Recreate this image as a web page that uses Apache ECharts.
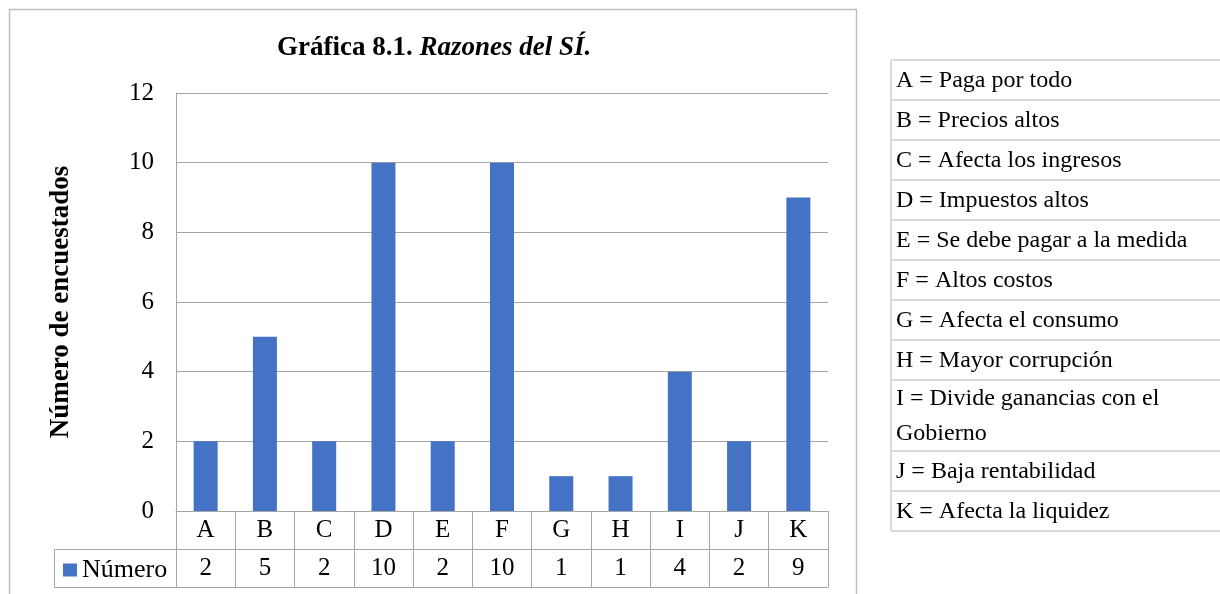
<!DOCTYPE html>
<html>
<head>
<meta charset="utf-8">
<script src="https://cdn.jsdelivr.net/npm/echarts@6/dist/echarts.min.js"></script>
<style>
  html, body { margin: 0; padding: 0; background: #ffffff; }
  #chart { width: 1220px; height: 594px; }
</style>
</head>
<body>
<div id="chart"></div>
<script>
// ---- data ----
const categories = ['A', 'B', 'C', 'D', 'E', 'F', 'G', 'H', 'I', 'J', 'K'];
const values = [2, 5, 2, 10, 2, 10, 1, 1, 4, 2, 9];
const seriesName = 'Número';
const yTicks = [0, 2, 4, 6, 8, 10, 12];
const titleMain = 'Gráfica 8.1. ';
const titleItalic = 'Razones del SÍ.';
const yAxisTitle = 'Número de encuestados';
const descriptions = [
  'A = Paga por todo',
  'B = Precios altos',
  'C = Afecta los ingresos',
  'D = Impuestos altos',
  'E = Se debe pagar a la medida',
  'F = Altos costos',
  'G = Afecta el consumo',
  'H = Mayor corrupción',
  'I = Divide ganancias con el\nGobierno',
  'J = Baja rentabilidad',
  'K = Afecta la liquidez'
];

const FONT = '"Liberation Serif", "Times New Roman", serif';
const GRID = '#a6a6a6';
const chart = echarts.init(document.getElementById('chart'), null, { renderer: 'canvas' });

// descriptive key table on the right
const keyGraphics = [];
let y = 60;
const rowH = 40, lineH = 35;
keyGraphics.push({ type: 'line', shape: { x1: 891, y1: 60, x2: 1230, y2: 60 }, style: { stroke: '#d9d9d9', lineWidth: 2 } });
descriptions.forEach(function (d) {
  const lines = d.split('\n').length;
  const h = lines === 1 ? rowH : lines * lineH + 1;
  keyGraphics.push({
    type: 'text', x: 896, y: y + h / 2 + 1,
    style: { text: d, font: '24px ' + FONT, fill: '#000', verticalAlign: 'middle', lineHeight: lineH }
  });
  y += h;
  keyGraphics.push({ type: 'line', shape: { x1: 891, y1: y, x2: 1230, y2: y }, style: { stroke: '#d9d9d9', lineWidth: 2 } });
});
keyGraphics.push({ type: 'line', shape: { x1: 891, y1: 60, x2: 891, y2: y }, style: { stroke: '#d9d9d9', lineWidth: 2 } });

const option = {
  backgroundColor: '#ffffff',
  animation: false,
  title: {
    text: '{b|' + titleMain + '}{bi|' + titleItalic + '}',
    left: 272,
    top: 30,
    textStyle: {
      rich: {
        b: { fontFamily: FONT, fontWeight: 'bold', fontSize: 27, color: '#000' },
        bi: { fontFamily: FONT, fontWeight: 'bold', fontStyle: 'italic', fontSize: 27, color: '#000' }
      }
    }
  },
  legend: {
    data: [seriesName],
    left: 58,
    top: 552,
    itemWidth: 14,
    itemHeight: 13,
    itemGap: 5,
    icon: 'rect',
    textStyle: { fontFamily: FONT, fontSize: 26, color: '#000', padding: [0, 0, 0, 0] }
  },
  grid: { left: 176, top: 93, width: 652, height: 418, containLabel: false },
  xAxis: [
    {
      type: 'category',
      data: categories,
      position: 'bottom',
      axisLine: { show: true, lineStyle: { color: GRID, width: 1 } },
      axisTick: { show: true, interval: 0, length: 76, lineStyle: { color: GRID } },
      axisLabel: {
        interval: 0,
        margin: 0,
        formatter: function (v, i) { return '{c|' + v + '}\n{v|' + values[i] + '}'; },
        rich: {
          c: { fontFamily: FONT, fontSize: 25, color: '#000', lineHeight: 38, height: 38 },
          v: { fontFamily: FONT, fontSize: 25, color: '#000', lineHeight: 38, height: 38 }
        }
      }
    },
    {
      type: 'category', data: categories, position: 'bottom', offset: 38,
      axisLine: { show: true, lineStyle: { color: GRID } },
      axisTick: { show: false }, axisLabel: { show: false }, splitLine: { show: false }
    },
    {
      type: 'category', data: categories, position: 'bottom', offset: 76,
      axisLine: { show: true, lineStyle: { color: GRID } },
      axisTick: { show: false }, axisLabel: { show: false }, splitLine: { show: false }
    }
  ],
  yAxis: {
    type: 'value',
    min: yTicks[0],
    max: yTicks[yTicks.length - 1],
    interval: yTicks[1] - yTicks[0],
    name: yAxisTitle,
    nameLocation: 'middle',
    nameRotate: 90,
    nameGap: 101,
    nameTextStyle: { fontFamily: FONT, fontWeight: 'bold', fontSize: 27, color: '#000' },
    axisLine: { show: true, lineStyle: { color: GRID } },
    axisTick: { show: false },
    splitLine: { show: true, lineStyle: { color: GRID, width: 1 } },
    axisLabel: { margin: 22, fontFamily: FONT, fontSize: 25, color: '#000' }
  },
  series: [{
    name: seriesName,
    type: 'bar',
    data: values,
    barWidth: 24,
    itemStyle: { color: '#4472c4' }
  }],
  graphic: [
    { type: 'rect', shape: { x: 9.5, y: 9.5, width: 847, height: 620 }, style: { fill: 'none', stroke: '#bfbfbf', lineWidth: 1.5 }, silent: true, z: -1 },
    { type: 'rect', shape: { x: 54.5, y: 549.5, width: 122, height: 38 }, style: { fill: 'none', stroke: GRID, lineWidth: 1 }, silent: true }
  ].concat(keyGraphics)
};
chart.setOption(option);
</script>
</body>
</html>
